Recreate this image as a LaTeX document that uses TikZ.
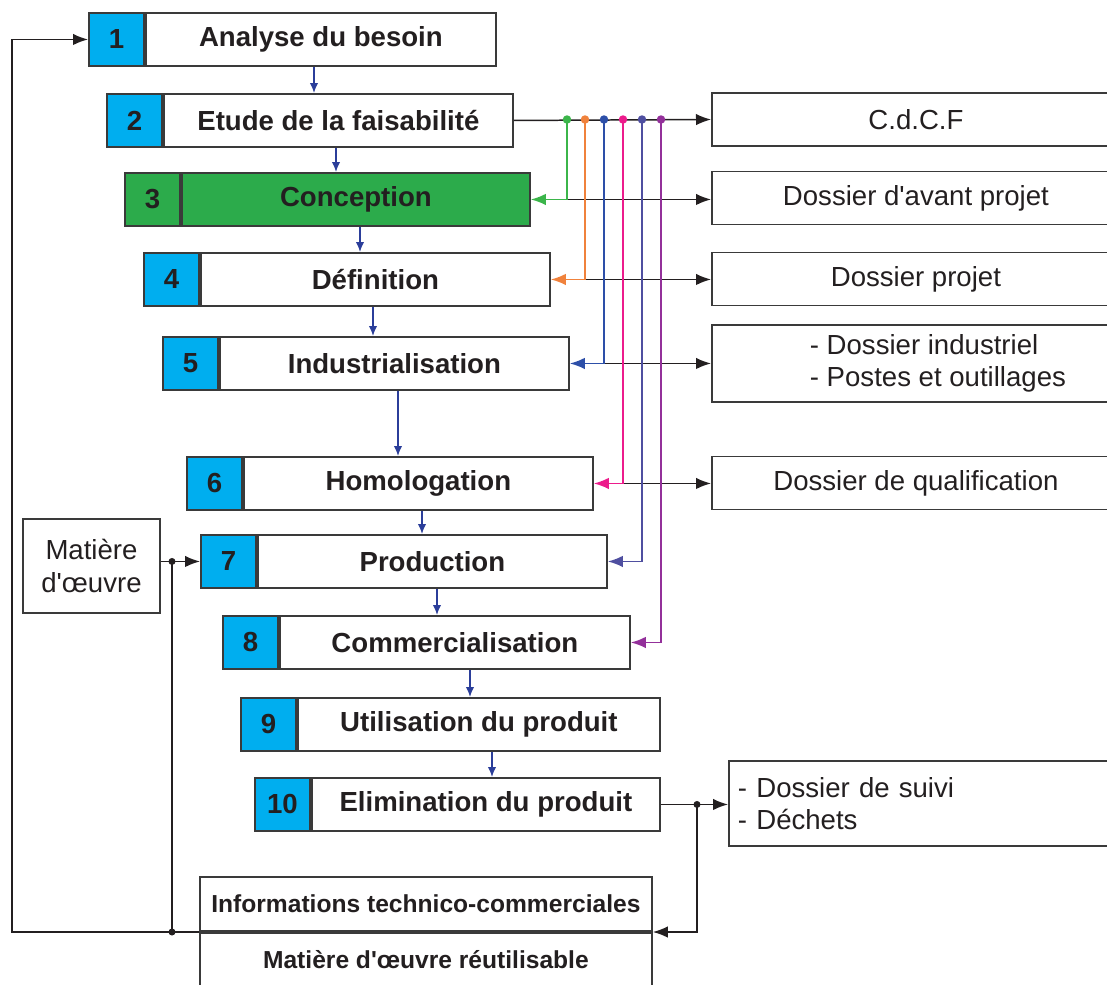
\documentclass[tikz,border=0pt]{standalone}
\usepackage{fontspec}
\setmainfont{Liberation Sans}
\usetikzlibrary{arrows.meta, positioning}
\definecolor{numCyan}{HTML}{00AEEF}
\definecolor{concGreen}{HTML}{2CAB4B}
\definecolor{lnGreen}{HTML}{3BB54A}
\definecolor{lnOrange}{HTML}{F0823C}
\definecolor{lnBlue}{HTML}{2D4FA8}
\definecolor{lnPink}{HTML}{EC1C8C}
\definecolor{lnIndigo}{HTML}{4F4FA0}
\definecolor{lnPurple}{HTML}{93309A}
\definecolor{flowBlue}{HTML}{2B3E9A}
\definecolor{edgeGray}{HTML}{3A3A3A}
\definecolor{txtDark}{HTML}{231F20}
\newcommand{\stepFont}{\bfseries\fontsize{15.7}{19}\selectfont}
\newcommand{\docFont}{\fontsize{15.7}{18.5}\selectfont}
\newcommand{\infoFont}{\bfseries\fontsize{14}{17}\selectfont}
\newcommand{\aps}{\textquotesingle}
\tikzset{
    numBox/.style={draw=edgeGray, line width=1.1pt, anchor=north west, inner sep=0pt, minimum width=1.1cm, minimum height=1.06cm, font=\stepFont, text=txtDark},
    stepBox/.style={draw=edgeGray, line width=1.1pt, anchor=north west, inner sep=0pt, minimum height=1.06cm, font=\stepFont, text=txtDark},
    docBox/.style={draw=edgeGray, line width=1.1pt, anchor=west, inner sep=0pt, minimum height=1.06cm, font=\docFont, text=txtDark},
    infoBox/.style={draw=edgeGray, line width=1.1pt, inner sep=0pt, minimum width=9.04cm, minimum height=1.08cm, font=\infoFont, text=txtDark},
    flowArrow/.style={draw=flowBlue, line width=0.85pt, -{Latex[length=2mm, width=1.7mm]}},
    blkArrow/.style={draw=txtDark, line width=0.85pt, -{Latex[length=3mm, width=2.3mm]}},
    colArrow/.style={draw=#1, line width=0.85pt, -{Latex[length=3mm, width=2.3mm]}}
}

\begin{document}
\begin{tikzpicture}[x=0.02cm, y=-0.02cm]
    \clip (0,0) rectangle (1107,985);
    % life cycle steps
    \foreach \n/\xl/\yt/\xr/\cn/\ct/\txt in {
        1/88/12/495/numCyan/white/Analyse du besoin,
        2/106/93/512/numCyan/white/Etude de la faisabilité,
        3/124/172/529/concGreen/concGreen/Conception,
        4/143/252/549/numCyan/white/Définition,
        5/162/336/568/numCyan/white/Industrialisation,
        6/186/456/592/numCyan/white/Homologation,
        7/200/534/606/numCyan/white/Production,
        8/222/615/629/numCyan/white/Commercialisation,
        9/240/697/659/numCyan/white/Utilisation du produit,
        10/254/777/659/numCyan/white/Elimination du produit}
    {
        \node[numBox, fill=\cn] (n\n) at (\xl,\yt) {\n};
        \node[stepBox, fill=\ct, minimum width={(\xr-\xl-57)*0.02cm}] (s\n) at (n\n.north east) {\txt};
    }
    % documents
    \node[docBox, minimum width=8.16cm] (dCdcf) at (711,119.5) {C.d.C.F};
    \node[docBox, minimum width=8.16cm] (dAvant) at (711,198) {Dossier d\aps avant projet};
    \node[docBox, minimum width=8.16cm] (dProjet) at (711,279) {Dossier projet};
    \node[docBox, minimum width=9.04cm, minimum height=1.54cm, align=left] (dIndus) at (711,363.5) {- Dossier industriel\\- Postes et outillages};
    \node[docBox, minimum width=8.16cm] (dQualif) at (711,483) {Dossier de qualification};
    \node[docBox, minimum height=1.7cm, text width=7.48cm, inner xsep=0.18cm, align=left] (dSuivi) at (728,803.5) {- Dossier de suivi\\- Déchets};
    \node[draw=edgeGray, line width=1.1pt, minimum width=2.74cm, minimum height=1.88cm, align=center, font=\docFont, text=txtDark] (mat) at (91.5,566) {Matière\\d\aps œuvre};
    \node[infoBox, anchor=south west] (info) at (199,932) {Informations technico-commerciales};
    \node[infoBox, anchor=north west, minimum height=1.3cm] (reuse) at (info.south west) {\raisebox{0.25cm}{Matière d\aps œuvre réutilisable}};
    % flow between steps
    \foreach \a/\b/\ax in {1/2/314, 2/3/336, 3/4/360, 4/5/373, 5/6/398, 6/7/422, 7/8/437, 8/9/470, 9/10/492}
        \draw[flowArrow] (\ax,0 |- s\a.south) -- (\ax,0 |- s\b.north);
    % outputs of the feasibility study
    \draw[blkArrow] (s2.east) -- (dCdcf.west);
    \foreach \k/\xc in {3/567, 4/585, 5/604, 6/623, 7/642, 8/661} {
        \coordinate (t\k) at (\xc,0 |- dCdcf.west);
        \coordinate (c\k) at (\xc,0 |- s\k.east);
    }
    \draw[blkArrow] (c3) -- (c3 -| dAvant.west);
    \draw[blkArrow] (c4) -- (c4 -| dProjet.west);
    \draw[blkArrow] (c5) -- (c5 -| dIndus.west);
    \draw[blkArrow] (c6) -- (c6 -| dQualif.west);
    \foreach \k/\col in {3/lnGreen, 4/lnOrange, 5/lnBlue, 6/lnPink, 7/lnIndigo, 8/lnPurple} {
        \draw[colArrow=\col] (t\k) -- (c\k) -- (s\k.east);
        \fill[\col] (t\k) circle (0.085cm);
    }
    % end of life and feedback loop
    \coordinate (jElim) at (697,0 |- s10.east);
    \coordinate (cLoop) at (12,0 |- info.south west);
    \coordinate (jLoop) at (172,0 |- info.south west);
    \coordinate (jMat) at (172,0 |- n7.west);
    \draw[blkArrow] (s10.east) -- (dSuivi.west |- s10.east);
    \draw[blkArrow] (jElim) |- (info.south east);
    \draw[blkArrow] (info.south west) -- (cLoop) |- (n1.west);
    \draw[blkArrow] (mat.east |- n7.west) -- (n7.west);
    \draw[txtDark, line width=0.85pt] (jLoop) -- (jMat);
    \fill[txtDark] (jElim) circle (0.07cm) (jLoop) circle (0.07cm) (jMat) circle (0.07cm);
\end{tikzpicture}
\end{document}
